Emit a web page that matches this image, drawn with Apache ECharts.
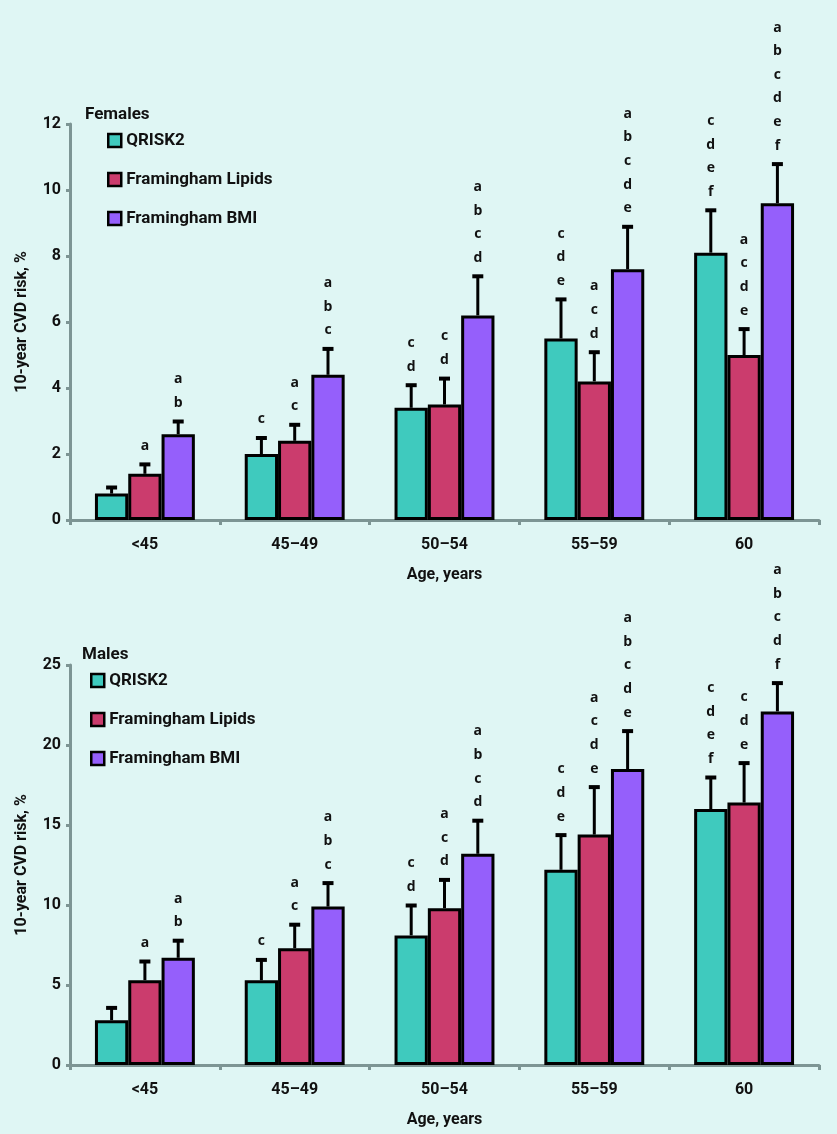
<!DOCTYPE html>
<html>
<head>
<meta charset="utf-8">
<script src="https://cdn.jsdelivr.net/npm/echarts@6/dist/echarts.min.js"></script>
<style>
html,body{margin:0;padding:0;background:#dff6f4;}
#chart{width:837px;height:1134px;}
</style>
</head>
<body>
<div id="chart"></div>
<script>
const categories = ['<45', '45–49', '50–54', '55–59', '60'];
const seriesNames = ['QRISK2', 'Framingham Lipids', 'Framingham BMI'];

const femalesQRISK2 = [0.8, 2.0, 3.4, 5.5, 8.1];
const femalesQRISK2Err = [1.0, 2.5, 4.1, 6.7, 9.4];
const femalesLipids = [1.4, 2.4, 3.5, 4.2, 5.0];
const femalesLipidsErr = [1.7, 2.9, 4.3, 5.1, 5.8];
const femalesBMI = [2.6, 4.4, 6.2, 7.6, 9.6];
const femalesBMIErr = [3.0, 5.2, 7.4, 8.9, 10.8];

const malesQRISK2 = [2.8, 5.3, 8.1, 12.2, 16.0];
const malesQRISK2Err = [3.6, 6.6, 10.0, 14.4, 18.0];
const malesLipids = [5.3, 7.3, 9.8, 14.4, 16.4];
const malesLipidsErr = [6.5, 8.8, 11.6, 17.4, 18.9];
const malesBMI = [6.7, 9.9, 13.2, 18.5, 22.1];
const malesBMIErr = [7.8, 11.4, 15.3, 20.9, 23.9];

const femalesQRISK2Letters = [[], ['c'], ['c','d'], ['c','d','e'], ['c','d','e','f']];
const femalesLipidsLetters = [['a'], ['a','c'], ['c','d'], ['a','c','d'], ['a','c','d','e']];
const femalesBMILetters = [['a','b'], ['a','b','c'], ['a','b','c','d'], ['a','b','c','d','e'], ['a','b','c','d','e','f']];
const malesQRISK2Letters = [[], ['c'], ['c','d'], ['c','d','e'], ['c','d','e','f']];
const malesLipidsLetters = [['a'], ['a','c'], ['a','c','d'], ['a','c','d','e'], ['c','d','e']];
const malesBMILetters = [['a','b'], ['a','b','c'], ['a','b','c','d'], ['a','b','c','d','e'], ['a','b','c','d','f']];

const femalesTicks = {min: 0, max: 12, interval: 2};
const malesTicks = {min: 0, max: 25, interval: 5};

const colors = ['#3fcabe', '#cb3c6d', '#955ffb'];
const axisGray = '#7d9594';
const catGap = 0.333;
const labelFont = 'Roboto';

const chart = echarts.init(document.getElementById('chart'), null, {renderer: 'canvas'});

function barSeries(gi, si, data) {
  return {
    type: 'bar', name: seriesNames[si], xAxisIndex: gi, yAxisIndex: gi,
    data: data, barGap: '0%', barCategoryGap: (catGap * 100) + '%',
    itemStyle: {color: colors[si], borderColor: '#000', borderWidth: 3},
    z: 2
  };
}

function errSeries(gi, si, tops, errs, letters) {
  return {
    type: 'custom', name: seriesNames[si], xAxisIndex: gi, yAxisIndex: gi,
    data: tops.map((v, i) => [i, v, errs[i]]),
    encode: {x: 0, y: 2},
    z: 5, silent: true,
    renderItem: function (params, api) {
      const i = api.value(0);
      const p0 = api.coord([i, api.value(1)]);
      const p1 = api.coord([i, api.value(2)]);
      const band = api.size([1, 0])[0];
      const bw = band * (1 - catGap) / 3;
      const x = p0[0] + (si - 1) * bw;
      const children = [
        {type: 'line', shape: {x1: x, y1: p0[1], x2: x, y2: p1[1]}, style: {stroke: '#000', lineWidth: 3}},
        {type: 'rect', shape: {x: x - 5.5, y: p1[1] - 1.5, width: 11, height: 4}, style: {fill: '#000'}}
      ];
      const ls = letters[params.dataIndex] || [];
      const n = ls.length;
      ls.forEach((t, k) => {
        children.push({
          type: 'text',
          style: {
            text: t, x: x, y: p1[1] - 18 - (n - 1 - k) * 23.6,
            align: 'center', verticalAlign: 'middle',
            font: 'bold 14px "Open Sans"', fill: '#111'
          }
        });
      });
      return {type: 'group', children: children};
    }
  };
}

function xAxis(gi) {
  return {
    type: 'category', gridIndex: gi, data: categories,
    name: 'Age, years', nameLocation: 'middle', nameGap: 47,
    nameTextStyle: {fontFamily: labelFont, fontWeight: 'bold', fontSize: 16, color: '#111'},
    axisLine: {lineStyle: {color: axisGray, width: 3}},
    axisTick: {show: true, length: 5, lineStyle: {color: axisGray, width: 3}},
    axisLabel: {fontFamily: labelFont, fontWeight: 'bold', fontSize: 16, color: '#111', margin: 17},
    splitLine: {show: false}
  };
}

function yAxis(gi, ticks) {
  return {
    type: 'value', gridIndex: gi, min: ticks.min, max: ticks.max, interval: ticks.interval,
    name: '10-year CVD risk, %', nameLocation: 'middle', nameGap: 40, nameRotate: 90,
    nameTextStyle: {fontFamily: labelFont, fontWeight: 'bold', fontSize: 16, color: '#111'},
    axisLine: {show: true, lineStyle: {color: axisGray, width: 3}},
    axisTick: {show: true, length: 4, lineStyle: {color: axisGray, width: 3}},
    axisLabel: {fontFamily: labelFont, fontWeight: 'bold', fontSize: 16, color: '#111', margin: 9},
    splitLine: {show: false}
  };
}

const legendCommon = {
  orient: 'vertical', itemWidth: 13, itemHeight: 13, itemGap: 22, icon: 'rect',
  itemStyle: {borderColor: '#000', borderWidth: 2.5},
  textStyle: {fontFamily: labelFont, fontWeight: 'bold', fontSize: 17, color: '#111'},
  data: seriesNames, selectedMode: false
};

chart.setOption({
  backgroundColor: '#dff6f4',
  animation: false,
  title: [
    {text: 'Females', left: 80, top: 101, textStyle: {fontFamily: labelFont, fontWeight: 'bold', fontSize: 17, color: '#111'}},
    {text: 'Males', left: 77, top: 641, textStyle: {fontFamily: labelFont, fontWeight: 'bold', fontSize: 17, color: '#111'}}
  ],
  legend: [
    Object.assign({left: 102, top: 127}, legendCommon),
    Object.assign({left: 85, top: 667}, legendCommon)
  ],
  grid: [
    {left: 70, right: 18, top: 124, height: 396},
    {left: 70, right: 18, top: 665, height: 400}
  ],
  xAxis: [xAxis(0), xAxis(1)],
  yAxis: [yAxis(0, femalesTicks), yAxis(1, malesTicks)],
  series: [
    barSeries(0, 0, femalesQRISK2), barSeries(0, 1, femalesLipids), barSeries(0, 2, femalesBMI),
    errSeries(0, 0, femalesQRISK2, femalesQRISK2Err, femalesQRISK2Letters),
    errSeries(0, 1, femalesLipids, femalesLipidsErr, femalesLipidsLetters),
    errSeries(0, 2, femalesBMI, femalesBMIErr, femalesBMILetters),
    barSeries(1, 0, malesQRISK2), barSeries(1, 1, malesLipids), barSeries(1, 2, malesBMI),
    errSeries(1, 0, malesQRISK2, malesQRISK2Err, malesQRISK2Letters),
    errSeries(1, 1, malesLipids, malesLipidsErr, malesLipidsLetters),
    errSeries(1, 2, malesBMI, malesBMIErr, malesBMILetters)
  ]
});
</script>
</body>
</html>
